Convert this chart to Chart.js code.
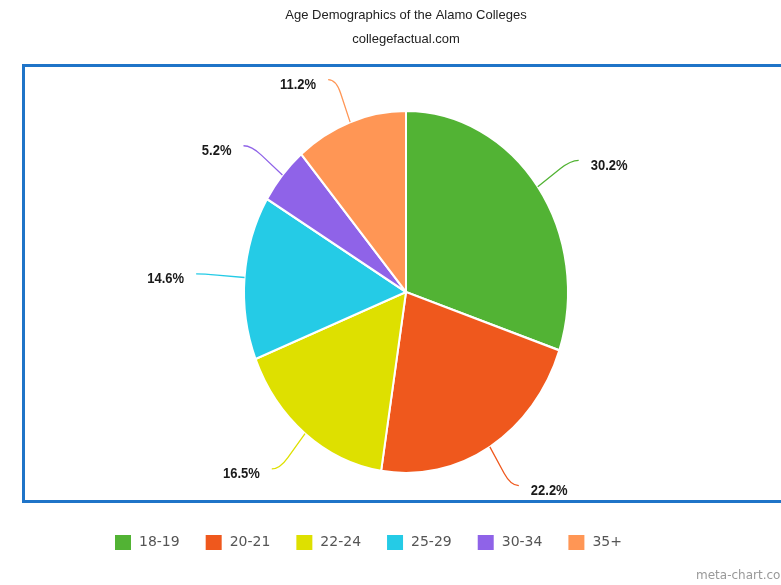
<!DOCTYPE html>
<html>
<head>
<meta charset="utf-8">
<title>Age Demographics of the Alamo Colleges</title>
<script src="https://cdn.jsdelivr.net/npm/chart.js@4/dist/chart.umd.min.js"></script>
<style>
    html, body { margin: 0; padding: 0; background: #fff; }
    body { width: 781px; height: 585px; overflow: hidden; position: relative; }
    #frame {
        position: absolute; left: 22px; top: 64px; width: 820px; height: 439px;
        box-sizing: border-box; border: 3px solid #1f74c8;
    }
    #chart { position: absolute; left: 0; top: 0; }
    #mark {
        position: absolute; left: 696px; top: 568px; white-space: nowrap;
        font: 12px "DejaVu Sans", sans-serif; color: #999;
    }
</style>
</head>
<body>
<div id="frame"></div>
<canvas id="chart" width="781" height="585"></canvas>
<div id="mark">meta-chart.com</div>
<script>
const titleText = 'Age Demographics of the Alamo Colleges';
const subtitleText = 'collegefactual.com';
const ageGroups = ['18-19', '20-21', '22-24', '25-29', '30-34', '35+'];
const shares = [30.2, 22.2, 16.5, 14.6, 5.2, 11.2];
const sliceColors = ['#52b334', '#ef581d', '#dee000', '#25cbe6', '#8f63e8', '#ff9655'];

// the original pie is a bit taller than wide
const stretchY = 181 / 162;

const ellipsePie = {
    id: 'ellipsePie',
    beforeDatasetsDraw(chart) {
        const arc = chart.getDatasetMeta(0).data[0];
        const ctx = chart.ctx;
        ctx.save();
        ctx.translate(arc.x, arc.y);
        ctx.scale(1, stretchY);
        ctx.translate(-arc.x, -arc.y);
    },
    afterDatasetsDraw(chart) {
        const ctx = chart.ctx;
        ctx.restore();

        const meta = chart.getDatasetMeta(0);
        meta.data.forEach((arc, i) => {
            const mid = (arc.startAngle + arc.endAngle) / 2;
            const rx = arc.outerRadius;
            const ry = arc.outerRadius * stretchY;
            const pt = k => ({ x: arc.x + rx * k * Math.cos(mid), y: arc.y + ry * k * Math.sin(mid) });
            const dir = Math.cos(mid) >= 0 ? 1 : -1;
            const p0 = pt(1.0);
            const pa = pt(1.17);
            const p1 = pt(1.25);
            const p2 = { x: p1.x + dir * 8, y: p1.y };

            ctx.save();
            ctx.strokeStyle = sliceColors[i];
            ctx.lineWidth = 1.3;
            ctx.beginPath();
            ctx.moveTo(p0.x, p0.y);
            ctx.lineTo(pa.x, pa.y);
            ctx.quadraticCurveTo(p1.x, p1.y, p2.x, p2.y);
            ctx.stroke();

            // labels are a touch taller too
            ctx.translate(p2.x + dir * 12, p2.y + 5.5);
            ctx.scale(1, 1.1);
            ctx.fillStyle = '#1a1a1a';
            ctx.font = 'bold 13px "Liberation Sans", Arial, sans-serif';
            ctx.textAlign = dir > 0 ? 'left' : 'right';
            ctx.textBaseline = 'middle';
            ctx.fillText(shares[i].toFixed(1) + '%', 0, 0);
            ctx.restore();
        });
    }
};

new Chart(document.getElementById('chart'), {
    type: 'pie',
    data: {
        labels: ageGroups,
        datasets: [{
            data: shares,
            backgroundColor: sliceColors,
            borderColor: '#ffffff',
            borderWidth: 2,
            clip: false
        }]
    },
    options: {
        responsive: false,
        animation: false,
        radius: 162,
        layout: { padding: { left: 89, right: 58, top: 0, bottom: 24 } },
        plugins: {
            title: {
                display: true,
                text: titleText,
                color: '#222',
                font: { family: '"Liberation Sans", Arial, sans-serif', size: 13, weight: 'normal', lineHeight: 1.2 },
                padding: { top: 7.2, bottom: 0 }
            },
            subtitle: {
                display: true,
                text: subtitleText,
                color: '#222',
                font: { family: '"Liberation Sans", Arial, sans-serif', size: 13, weight: 'normal', lineHeight: 1.2 },
                padding: { top: 8.4, bottom: 28.2 }
            },
            legend: {
                position: 'bottom',
                align: 'start',
                labels: {
                    boxWidth: 18,
                    boxHeight: 17,
                    padding: 25,
                    color: '#555',
                    font: { family: '"DejaVu Sans", sans-serif', size: 14 }
                }
            },
            tooltip: { enabled: false }
        }
    },
    plugins: [ellipsePie]
});
</script>
</body>
</html>
